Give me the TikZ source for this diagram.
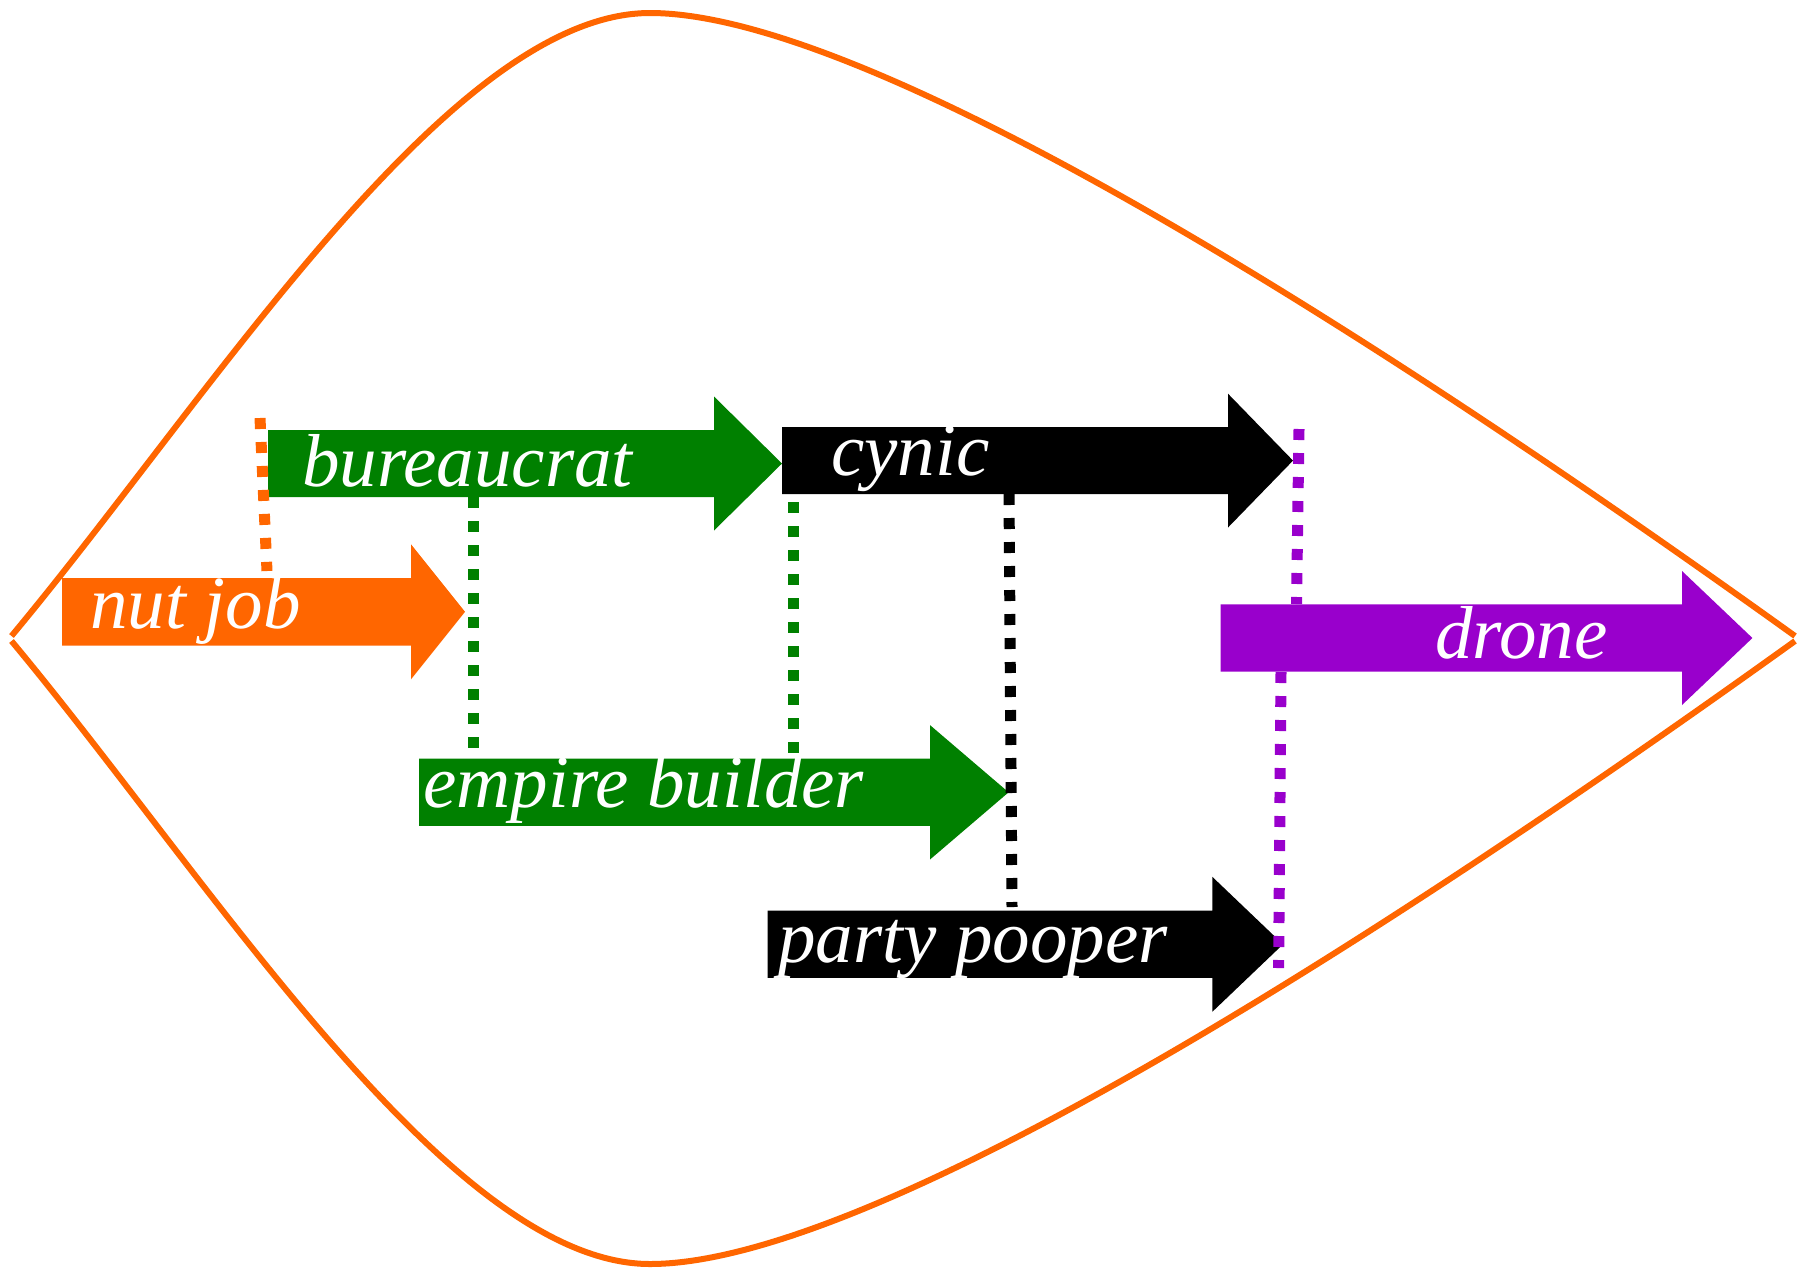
\documentclass[tikz,border=0pt]{standalone}
\usepackage{fontspec}
\setmainfont{Liberation Serif}
\definecolor{nutorange}{HTML}{FF6600}
\definecolor{bgreen}{HTML}{008000}
\definecolor{dpurple}{HTML}{9900CC}
\tikzset{
  outline/.style={draw=nutorange, line width=6pt},
  lbl/.style={anchor=base west, inner sep=0pt, text=white, font=\fontsize{75}{90}\selectfont\itshape},
  conn/.style={line width=11pt, dash pattern=on 11pt off 13pt},
}
% color, x left, x head base, x tip, y centre, body half height, head half height
\newcommand{\fatarrow}[7]{%
  \fill[#1] (#2,#5-#6) -- (#3,#5-#6) -- (#3,#5-#7) -- (#4,#5) -- (#3,#5+#7) -- (#3,#5+#6) -- (#2,#5+#6) -- cycle;}
\begin{document}
\begin{tikzpicture}[x=1pt,y=-1pt]
\useasboundingbox (0,0) rectangle (1809,1270);

% outline
\draw[outline] (11.5,636) .. controls (211.5,396) and (450,13) .. (650,13)
  .. controls (850,13) and (1295,277) .. (1795,636);
\draw[outline] (11.5,641) .. controls (211.5,881) and (450,1264) .. (650,1264)
  .. controls (850,1264) and (1295,1000) .. (1795,641);

% arrows
\fatarrow{nutorange}{62}{411}{465}{611.8}{33.8}{67.5}
\fatarrow{bgreen}{268}{714}{782}{463.5}{33.5}{67}
\fatarrow{black}{782}{1228}{1293}{460.6}{33.6}{66.9}
\fatarrow{bgreen}{419}{930}{1008.6}{792.3}{33.6}{67.2}
\fatarrow{black}{767.5}{1212.4}{1283}{944.3}{33.6}{67.4}
\fatarrow{dpurple}{1220.5}{1682}{1752.4}{638}{33.7}{67}

% labels
\node[lbl] (nutjob) at (90,628.3) {nut job};
\node[lbl] (bureaucrat) at (302,486) {bureaucrat};
\node[lbl] (cynic) at (831,475) {cynic};
\node[lbl] (empire) at (423,807) {empire builder};
\node[lbl] (party) at (778,962) {party pooper};
\node[lbl] (drone) at (1435,658) {drone};

% connector end points
\coordinate (oA) at (260,418);
\coordinate (oB) at (267,571);
\coordinate (gA) at (473,497);
\coordinate (gB) at (473,757);
\coordinate (hA) at (793,502);
\coordinate (hB) at (793,758);
\coordinate (kA) at (1009,494);
\coordinate (kB) at (1012,907);
\coordinate (pA) at (1299,429);
\coordinate (pB) at (1296.5,604);
\coordinate (qA) at (1281,672);
\coordinate (qB) at (1278.6,968);

% dashed connectors
\draw[conn, draw=nutorange] (oA) -- (oB);
\draw[conn, draw=bgreen] (gA) -- (gB);
\draw[conn, draw=bgreen] (hA) -- (hB);
\draw[conn, draw=black] (kA) -- (kB);
\draw[conn, draw=dpurple] (pA) -- (pB);
\draw[conn, draw=dpurple] (qA) -- (qB);
\end{tikzpicture}
\end{document}
